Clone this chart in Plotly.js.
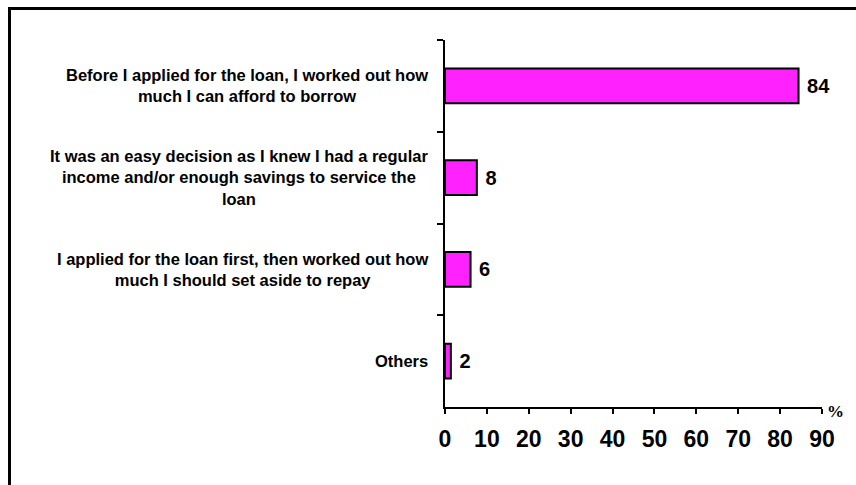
<!DOCTYPE html>
<html>
<head>
<meta charset="utf-8">
<script src="https://cdn.plot.ly/plotly-3.0.1.min.js"></script>
<style>
html,body{margin:0;padding:0;background:#fff;}
#wrap{position:relative;width:856px;height:485px;overflow:hidden;}
#chart{width:856px;height:485px;}
#frame{position:absolute;left:8px;top:7px;width:860px;height:490px;border-top:3px solid #000;border-left:3px solid #000;pointer-events:none;}
</style>
</head>
<body>
<div id="wrap"><div id="chart"></div><div id="frame"></div></div>
<script>
const categories = [
  "Before I applied for the loan, I worked out how<br>much I can afford to borrow",
  "It was an easy decision as I knew I had a regular<br>income and/or enough savings to service the<br>loan",
  "I applied for the loan first, then worked out how<br>much I should set aside to repay",
  "Others"
];
const values = [84.4, 7.6, 6.1, 1.4];
const valueLabels = ["84", "8", "6", "2"];
const xTicks = [0, 10, 20, 30, 40, 50, 60, 70, 80, 90];

const FONT = "Liberation Sans, Arial, sans-serif";

const trace = {
  type: "bar",
  orientation: "h",
  y: categories,
  x: values,
  text: valueLabels,
  texttemplate: "\u00a0%{text}",
  textposition: "outside",
  cliponaxis: false,
  textfont: {family: FONT, size: 20, color: "#000", weight: "bold"},
  marker: {color: "#FF22FF", line: {color: "#000", width: 2}},
  hoverinfo: "none"
};

const annotations = categories.map((c) => ({
  xref: "paper", yref: "y",
  x: -0.04, y: c,
  text: c,
  showarrow: false,
  xanchor: "right", yanchor: "middle", align: "center",
  font: {family: FONT, size: 16.5, color: "#000", weight: "bold"}
}));
annotations.push({
  xref: "paper", yref: "paper",
  x: 1.007, y: -0.012,
  xanchor: "left", yanchor: "middle",
  text: "%", showarrow: false,
  font: {family: "Liberation Serif, Times New Roman, serif", size: 17, color: "#000", weight: "bold"}
});

const layout = {
  width: 856, height: 485,
  margin: {l: 445, r: 34, t: 40, b: 78},
  paper_bgcolor: "#fff", plot_bgcolor: "#fff",
  showlegend: false,
  bargap: 0.62,
  xaxis: {
    range: [0, 90],
    tickvals: xTicks,
    ticktext: xTicks.map(String),
    ticks: "outside", ticklen: 5, tickwidth: 2, tickcolor: "#000",
    showline: true, linecolor: "#000", linewidth: 2,
    showgrid: false, zeroline: false,
    tickfont: {family: FONT, size: 23, color: "#000", weight: "bold"},
    ticklabelstandoff: 5
  },
  yaxis: {
    autorange: "reversed",
    showticklabels: false,
    ticks: "outside", tickson: "boundaries", ticklen: 6, tickwidth: 2, tickcolor: "#000",
    showline: true, linecolor: "#000", linewidth: 2,
    showgrid: false, zeroline: false
  },
  annotations: annotations
};

Plotly.newPlot("chart", [trace], layout, {staticPlot: true, displayModeBar: false});
</script>
</body>
</html>
